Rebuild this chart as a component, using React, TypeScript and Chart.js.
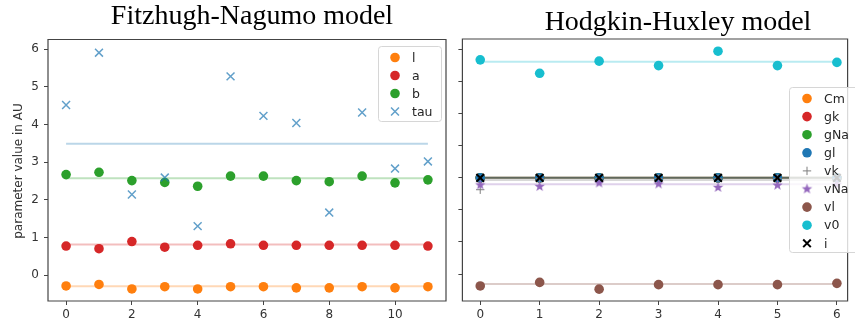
import React, { useEffect, useRef } from 'react';
import { Chart, registerables } from 'chart.js';

Chart.register(...registerables);

// ---------- Fitzhugh-Nagumo (left) ----------
const fnX = [0, 1, 2, 3, 4, 5, 6, 7, 8, 9, 10, 11];
const fnL = [-0.29, -0.25, -0.37, -0.31, -0.37, -0.31, -0.31, -0.34, -0.34, -0.31, -0.34, -0.31];
const fnA = [0.77, 0.70, 0.89, 0.74, 0.79, 0.83, 0.79, 0.79, 0.79, 0.79, 0.79, 0.77];
const fnB = [2.67, 2.73, 2.51, 2.46, 2.36, 2.63, 2.63, 2.51, 2.48, 2.63, 2.45, 2.53];
const fnTau = [4.52, 5.91, 2.14, 2.59, 1.30, 5.28, 4.23, 4.04, 1.66, 4.32, 2.83, 3.02];
const fnNames = ['l', 'a', 'b', 'tau'];
const fnMeans = [-0.30, 0.81, 2.57, 3.49];
const fnYTicks = [0, 1, 2, 3, 4, 5, 6];
const fnXTicks = [0, 2, 4, 6, 8, 10];

// ---------- Hodgkin-Huxley (right) ----------
const hhX = [0, 1, 2, 3, 4, 5, 6];
const hhCm = [3.0, 3.0, 3.0, 3.0, 3.0, 3.0, 3.0];
const hhGk = [3.0, 3.0, 3.0, 3.0, 3.0, 3.0, 3.0];
const hhGNa = [3.0, 3.0, 3.0, 3.0, 3.0, 3.0, 3.0];
const hhGl = [3.0, 3.0, 3.0, 3.0, 3.0, 3.0, 3.0];
const hhVk = [2.63, 2.98, 2.98, 2.98, 2.98, 2.98, 2.98];
const hhVNa = [2.78, 2.73, 2.84, 2.81, 2.70, 2.77, 2.79];
const hhVl = [-0.37, -0.26, -0.47, -0.33, -0.33, -0.33, -0.29];
const hhV0 = [6.68, 6.26, 6.64, 6.50, 6.95, 6.50, 6.60];
const hhI = [3.0, 3.0, 3.0, 3.0, 3.0, 3.0, 3.0];
const hhNames = ['Cm', 'gk', 'gNa', 'gl', 'vk', 'vNa', 'vl', 'v0', 'i'];
const hhMeans = [3.0, 3.0, 3.0, 3.0, 2.93, 2.80, -0.31, 6.62, 3.0];
const hhXTicks = [0, 1, 2, 3, 4, 5, 6];
const hhYTicks = [0, 1, 2, 3, 4, 5, 6, 7];

const C = {
  orange: '#ff7f0e',
  red: '#d62728',
  green: '#2ca02c',
  blue: '#1f77b4',
  grey: '#7f7f7f',
  purple: '#9467bd',
  brown: '#8c564b',
  cyan: '#17becf',
  black: '#000000',
};

function rgba(hex: string, a: number) {
  const n = parseInt(hex.slice(1), 16);
  return `rgba(${(n >> 16) & 255},${(n >> 8) & 255},${n & 255},${a})`;
}

function makeStar(color: string, r: number) {
  const c = document.createElement('canvas');
  const s = Math.ceil(r * 2 + 2);
  c.width = s;
  c.height = s;
  const ctx = c.getContext('2d')!;
  const cx = s / 2, cy = s / 2;
  ctx.beginPath();
  for (let k = 0; k < 10; k++) {
    const rad = k % 2 === 0 ? r : r * 0.42;
    const ang = -Math.PI / 2 + (k * Math.PI) / 5;
    const px = cx + rad * Math.cos(ang);
    const py = cy + rad * Math.sin(ang);
    if (k === 0) ctx.moveTo(px, py); else ctx.lineTo(px, py);
  }
  ctx.closePath();
  ctx.fillStyle = color;
  ctx.fill();
  return c;
}

type Marker = { style: string; color: string; r: number; w?: number };

function drawMarker(ctx: CanvasRenderingContext2D, m: Marker, x: number, y: number) {
  ctx.save();
  ctx.fillStyle = m.color;
  ctx.strokeStyle = m.color;
  ctx.lineWidth = m.w || 1.5;
  if (m.style === 'circle') {
    ctx.beginPath();
    ctx.arc(x, y, m.r, 0, Math.PI * 2);
    ctx.fill();
  } else if (m.style === 'crossRot') {
    const o = m.r * Math.SQRT1_2;
    ctx.beginPath();
    ctx.moveTo(x - o, y - o); ctx.lineTo(x + o, y + o);
    ctx.moveTo(x - o, y + o); ctx.lineTo(x + o, y - o);
    ctx.stroke();
  } else if (m.style === 'cross') {
    ctx.beginPath();
    ctx.moveTo(x - m.r, y); ctx.lineTo(x + m.r, y);
    ctx.moveTo(x, y - m.r); ctx.lineTo(x, y + m.r);
    ctx.stroke();
  } else if (m.style === 'star') {
    const img = makeStar(m.color, m.r);
    ctx.drawImage(img, x - img.width / 2, y - img.height / 2);
  }
  ctx.restore();
}

const FONT = '"DejaVu Sans", sans-serif';
const TXT = '#333333';
const FRAME = '#444444';

function scatterDs(label: string, xs: number[], ys: number[], m: Marker, order: number) {
  const pointStyle: any = m.style === 'star' ? makeStar(m.color, m.r) : m.style;
  return {
    type: 'scatter' as const,
    label,
    data: xs.map((x, i) => ({ x, y: ys[i] })),
    pointStyle,
    pointRadius: m.r,
    pointBackgroundColor: m.color,
    pointBorderColor: m.color,
    pointBorderWidth: m.style === 'circle' ? 0 : (m.w || 1.5),
    showLine: false,
    order,
  };
}

function meanDs(label: string, x0: number, x1: number, y: number, color: string, order: number) {
  return {
    type: 'line' as const,
    label: label + ' mean',
    data: [{ x: x0, y }, { x: x1, y }],
    borderColor: rgba(color, 0.3),
    borderWidth: 2,
    pointRadius: 0,
    fill: false,
    order,
  };
}

function makePlugin(opts: {
  title: string; titleX: number; titleY: number;
  yTitle?: string;
  legendNames: string[]; legendMarkers: Marker[];
  legendBox: { x: number; y: number; w: number; h: number };
  legendRow0: number; legendStep: number; markerX: number; textX: number;
}) {
  return {
    id: 'decor',
    afterDraw(chart: any) {
      const ctx: CanvasRenderingContext2D = chart.ctx;
      const a = chart.chartArea;
      ctx.save();
      // frame
      ctx.strokeStyle = FRAME;
      ctx.lineWidth = 1.2;
      ctx.beginPath();
      ctx.moveTo(a.left, a.top);
      ctx.lineTo(a.right, a.top);
      ctx.lineTo(a.right, a.bottom);
      ctx.lineTo(a.left, a.bottom);
      ctx.closePath();
      ctx.stroke();
      // title
      ctx.fillStyle = '#000';
      ctx.font = '28px "Liberation Serif", "Times New Roman", serif';
      ctx.textAlign = 'center';
      ctx.textBaseline = 'alphabetic';
      ctx.fillText(opts.title, opts.titleX, opts.titleY);
      // y title
      if (opts.yTitle) {
        ctx.save();
        ctx.translate(19, 171);
        ctx.rotate(-Math.PI / 2);
        ctx.font = `12px ${FONT}`;
        ctx.fillStyle = TXT;
        ctx.textAlign = 'center';
        ctx.textBaseline = 'middle';
        ctx.fillText(opts.yTitle, 0, 0);
        ctx.restore();
      }
      // legend
      const b = opts.legendBox;
      ctx.beginPath();
      const r = 3;
      ctx.moveTo(b.x + r, b.y);
      ctx.lineTo(b.x + b.w - r, b.y);
      ctx.arcTo(b.x + b.w, b.y, b.x + b.w, b.y + r, r);
      ctx.lineTo(b.x + b.w, b.y + b.h - r);
      ctx.arcTo(b.x + b.w, b.y + b.h, b.x + b.w - r, b.y + b.h, r);
      ctx.lineTo(b.x + r, b.y + b.h);
      ctx.arcTo(b.x, b.y + b.h, b.x, b.y + b.h - r, r);
      ctx.lineTo(b.x, b.y + r);
      ctx.arcTo(b.x, b.y, b.x + r, b.y, r);
      ctx.closePath();
      ctx.fillStyle = 'rgba(255,255,255,0.8)';
      ctx.fill();
      ctx.strokeStyle = '#d6d6d6';
      ctx.lineWidth = 1;
      ctx.stroke();
      ctx.font = `12.5px ${FONT}`;
      ctx.textAlign = 'left';
      ctx.textBaseline = 'middle';
      opts.legendNames.forEach((name, i) => {
        const y = opts.legendRow0 + i * opts.legendStep;
        drawMarker(ctx, opts.legendMarkers[i], opts.markerX, y);
        ctx.fillStyle = '#262626';
        ctx.fillText(name, opts.textX, y + 1);
      });
      ctx.restore();
    },
  };
}

function axisX(min: number, max: number, ticks: number[]) {
  return {
    type: 'linear' as const,
    min,
    max,
    afterFit: (s: any) => { s.height = 26; },
    afterBuildTicks: (s: any) => { s.ticks = ticks.map((v) => ({ value: v })); },
    ticks: {
      color: TXT,
      font: { family: FONT, size: 12 },
      padding: 3,
      maxRotation: 0,
      autoSkip: false,
    },
    grid: { drawOnChartArea: false, drawTicks: true, tickLength: 4, tickColor: FRAME, tickWidth: 1 },
    border: { display: false },
  };
}

function axisY(min: number, max: number, ticks: number[], width: number, labels: boolean) {
  return {
    type: 'linear' as const,
    min,
    max,
    afterFit: (s: any) => { s.width = width; },
    afterBuildTicks: (s: any) => { s.ticks = ticks.map((v) => ({ value: v })); },
    ticks: {
      color: TXT,
      font: { family: FONT, size: 12 },
      padding: 5,
      autoSkip: false,
      callback: (v: any) => (labels ? String(v) : ''),
    },
    grid: { drawOnChartArea: false, drawTicks: true, tickLength: 4, tickColor: FRAME, tickWidth: 1 },
    border: { display: false },
  };
}

export default function App() {
  const leftRef = useRef<HTMLCanvasElement>(null);
  const rightRef = useRef<HTMLCanvasElement>(null);

  useEffect(() => {
    document.body.style.margin = '0';
    const fnSeries = [fnL, fnA, fnB, fnTau];
    const fnMarkers: Marker[] = [
      { style: 'circle', color: C.orange, r: 4.8 },
      { style: 'circle', color: C.red, r: 4.8 },
      { style: 'circle', color: C.green, r: 4.8 },
      { style: 'crossRot', color: rgba(C.blue, 0.7), r: 5.6, w: 1.5 },
    ];
    const fnColors = [C.orange, C.red, C.green, C.blue];
    const leftDs: any[] = [];
    fnSeries.forEach((ys, i) => {
      leftDs.push(meanDs(fnNames[i], 0, 11, fnMeans[i], fnColors[i], 100 - i));
    });
    fnSeries.forEach((ys, i) => {
      leftDs.push(scatterDs(fnNames[i], fnX, ys, fnMarkers[i], 50 - i));
    });

    const left = new Chart(leftRef.current!, {
      type: 'scatter',
      data: { datasets: leftDs },
      options: {
        animation: false,
        responsive: false,
        devicePixelRatio: 1,
        layout: { padding: { left: 0, top: 39.5, right: 9, bottom: 0 } },
        plugins: { legend: { display: false }, tooltip: { enabled: false } },
        scales: {
          x: axisX(-0.55, 11.55, fnXTicks),
          y: axisY(-0.69, 6.26, fnYTicks, 48, true),
        },
      } as any,
      plugins: [
        makePlugin({
          title: 'Fitzhugh-Nagumo model', titleX: 252, titleY: 24,
          yTitle: 'parameter value in AU',
          legendNames: fnNames, legendMarkers: fnMarkers,
          legendBox: { x: 378.5, y: 46.5, w: 63, h: 75 },
          legendRow0: 57.5, legendStep: 18, markerX: 395, textX: 412,
        }),
      ],
    });

    const hhSeries = [hhCm, hhGk, hhGNa, hhGl, hhVk, hhVNa, hhVl, hhV0, hhI];
    const hhColors = [C.orange, C.red, C.green, C.blue, C.grey, C.purple, C.brown, C.cyan, C.black];
    const hhMarkers: Marker[] = [
      { style: 'circle', color: C.orange, r: 4.8 },
      { style: 'circle', color: C.red, r: 4.8 },
      { style: 'circle', color: C.green, r: 4.8 },
      { style: 'circle', color: C.blue, r: 4.8 },
      { style: 'cross', color: C.grey, r: 4.2, w: 1 },
      { style: 'star', color: C.purple, r: 5.5 },
      { style: 'circle', color: C.brown, r: 4.8 },
      { style: 'circle', color: C.cyan, r: 4.8 },
      { style: 'crossRot', color: C.black, r: 5.4, w: 2 },
    ];
    const rightDs: any[] = [];
    hhSeries.forEach((ys, i) => {
      rightDs.push(meanDs(hhNames[i], 0, 6, hhMeans[i], hhColors[i], 100 - i));
    });
    hhSeries.forEach((ys, i) => {
      rightDs.push(scatterDs(hhNames[i], hhX, ys, hhMarkers[i], 50 - i));
    });

    const right = new Chart(rightRef.current!, {
      type: 'scatter',
      data: { datasets: rightDs },
      options: {
        animation: false,
        responsive: false,
        devicePixelRatio: 1,
        layout: { padding: { left: 0, top: 39, right: 0, bottom: 0 } },
        plugins: { legend: { display: false }, tooltip: { enabled: false } },
        scales: {
          x: axisX(-0.3, 6.18, hhXTicks),
          y: axisY(-0.84, 7.33, hhYTicks, 6.8, false),
        },
      } as any,
      plugins: [
        makePlugin({
          title: 'Hodgkin-Huxley model', titleX: 223, titleY: 30,
          legendNames: hhNames, legendMarkers: hhMarkers,
          legendBox: { x: 334.5, y: 87.5, w: 120, h: 165 },
          legendRow0: 98.5, legendStep: 18.1, markerX: 352, textX: 369,
        }),
      ],
    });

    return () => {
      left.destroy();
      right.destroy();
    };
  }, []);

  return (
    <div style={{ position: 'absolute', left: 0, top: 0, width: 855, height: 327, overflow: 'hidden', background: '#fff' }}>
      <canvas ref={leftRef} width={455} height={327} style={{ position: 'absolute', left: 0, top: 0, width: 455, height: 327 }} />
      <canvas ref={rightRef} width={400} height={327} style={{ position: 'absolute', left: 455, top: 0, width: 400, height: 327 }} />
    </div>
  );
}
